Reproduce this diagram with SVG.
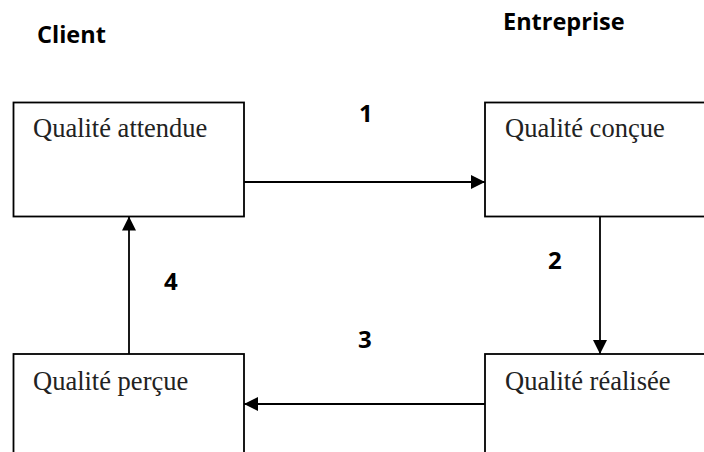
<svg xmlns="http://www.w3.org/2000/svg" width="704" height="452" viewBox="0 0 704 452">
  <style>
    .box { fill: #ffffff; stroke: #000000; stroke-width: 1.8; }
    .label { font-family: "Liberation Serif", "Times New Roman", serif; font-size: 26.5px; fill: #222222; }
    .head { font-family: "Open Sans", "Liberation Sans", Arial, sans-serif; font-weight: bold; font-size: 23.5px; fill: #000000; }
    .num { font-family: "Open Sans", "Liberation Sans", Arial, sans-serif; font-weight: bold; font-size: 24px; fill: #000000; }
    .link { fill: none; stroke: #000000; stroke-width: 1.8; marker-end: url(#arrow); }
  </style>
  <defs>
    <marker id="arrow" viewBox="0 0 10 10" refX="10" refY="5" markerWidth="14" markerHeight="14" markerUnits="userSpaceOnUse" orient="auto">
      <path d="M0,0 L10,5 L0,10 z" fill="#000000"/>
    </marker>
  </defs>

  <!-- column headings -->
  <text class="head" x="37" y="43">Client</text>
  <text class="head" x="503" y="29.5">Entreprise</text>

  <g id="attendue">
    <rect class="box" x="13.5" y="102.5" width="230.5" height="114"/>
    <text class="label" x="33" y="137">Qualité attendue</text>
  </g>
  <g id="concue">
    <rect class="box" x="485" y="102.5" width="230" height="114"/>
    <text class="label" x="505" y="137">Qualité conçue</text>
  </g>
  <g id="realisee">
    <rect class="box" x="485" y="354" width="230" height="110"/>
    <text class="label" x="505" y="390">Qualité réalisée</text>
  </g>
  <g id="percue">
    <rect class="box" x="13.5" y="354" width="230.5" height="110"/>
    <text class="label" x="33" y="390">Qualité perçue</text>
  </g>

  <g id="connectors">
    <line class="link" x1="244" y1="182" x2="485" y2="182"/>
    <line class="link" x1="600" y1="216.5" x2="600" y2="354"/>
    <line class="link" x1="485" y1="404" x2="244" y2="404"/>
    <line class="link" x1="129" y1="354" x2="129" y2="216.5"/>
    <text class="num" x="359" y="122">1</text>
    <text class="num" x="548" y="269">2</text>
    <text class="num" x="358" y="348">3</text>
    <text class="num" x="164" y="290">4</text>
  </g>
</svg>
